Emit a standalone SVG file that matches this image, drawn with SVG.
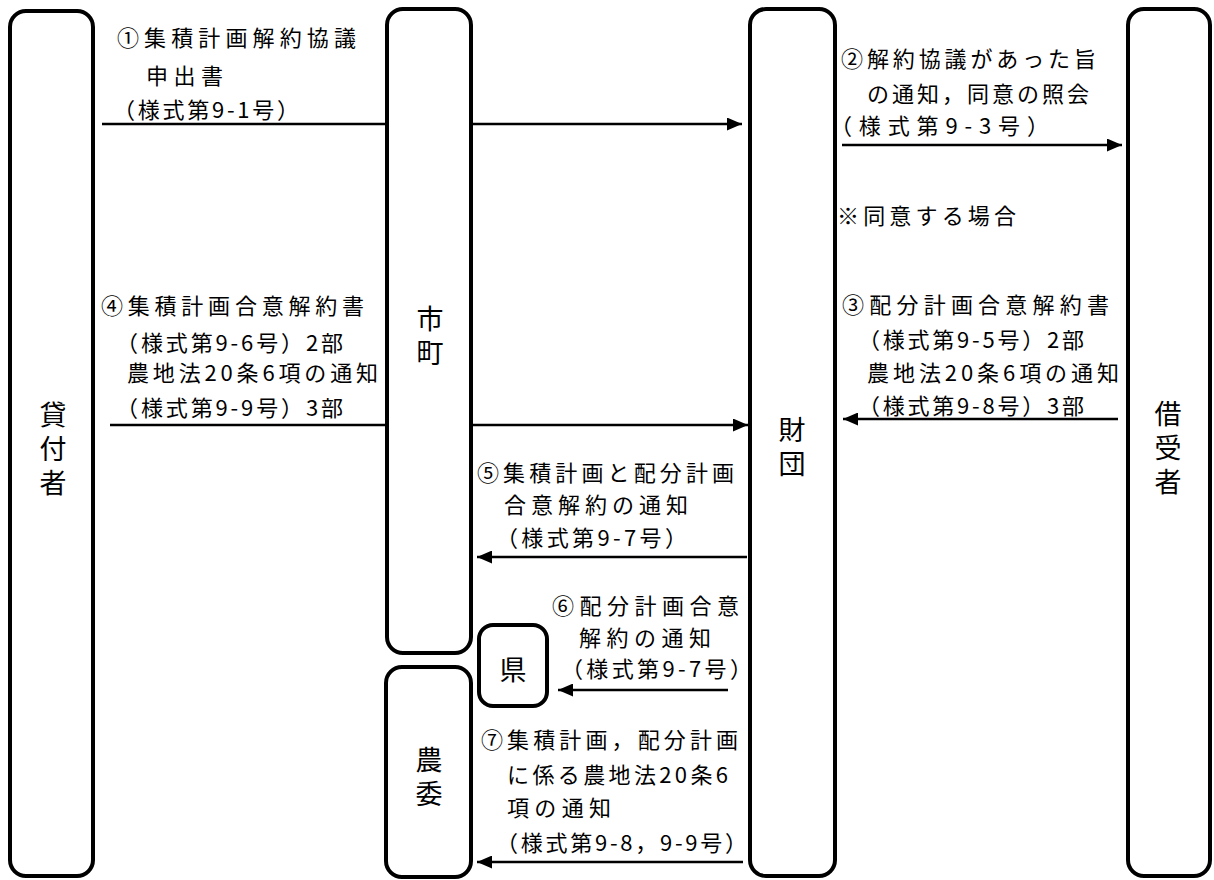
<svg xmlns="http://www.w3.org/2000/svg" width="1214" height="880" viewBox="0 0 1214 880">
<style>
.box{fill:#fff;stroke:#000;stroke-width:4}
.nl{font-family:"Noto Sans CJK JP","Noto Sans",sans-serif;font-size:27px;fill:#000;text-anchor:middle}
.vt{writing-mode:vertical-rl;letter-spacing:7px}
.lb{font-family:"Noto Sans CJK JP","Noto Sans",sans-serif;font-size:22px;fill:#000}
.ar{stroke:#000;stroke-width:2.5;fill:none;marker-end:url(#ah)}
</style>
<defs>
<marker id="ah" markerUnits="userSpaceOnUse" markerWidth="15" markerHeight="13" refX="15" refY="6.5" orient="auto">
<path d="M0,0 L15,6.5 L0,13 z" fill="#000"/>
</marker>
</defs>
<rect width="1214" height="880" fill="#fff"/>
<g id="connectors">
<line class="ar" x1="102" y1="124" x2="742" y2="124"/>
<line class="ar" x1="842" y1="145" x2="1122" y2="145"/>
<line class="ar" x1="1118" y1="419" x2="843" y2="419"/>
<line class="ar" x1="110" y1="425" x2="748" y2="425"/>
<line class="ar" x1="747" y1="557" x2="477" y2="557"/>
<line class="ar" x1="728" y1="690" x2="558" y2="690"/>
<line class="ar" x1="743" y1="862" x2="477" y2="862"/>
</g>
<g id="node-kashitsukesha">
<rect class="box" x="10" y="11" width="83" height="865" rx="16"/>
<text class="nl vt" x="53" y="452">貸付者</text>
</g>
<g id="node-shicho">
<rect class="box" x="387" y="9" width="84" height="644" rx="16"/>
<text class="nl vt" x="430" y="339">市町</text>
</g>
<g id="node-zaidan">
<rect class="box" x="750" y="9" width="85" height="867" rx="16"/>
<text class="nl vt" x="792" y="450">財団</text>
</g>
<g id="node-kariukesha">
<rect class="box" x="1128" y="9" width="82" height="867" rx="16"/>
<text class="nl vt" x="1168" y="451">借受者</text>
</g>
<g id="node-ken">
<rect class="box" x="479" y="625" width="68" height="81" rx="14"/>
<text class="nl" x="513" y="680">県</text>
</g>
<g id="node-noui">
<rect class="box" x="386" y="667" width="85" height="210" rx="16"/>
<text class="nl vt" x="429" y="780">農委</text>
</g>
<g id="labels">
<text class="lb" x="117" y="46" textLength="239" lengthAdjust="spacing">①集積計画解約協議</text>
<text class="lb" x="146" y="84" textLength="77" lengthAdjust="spacing">申出書</text>
<text class="lb" x="113" y="118" textLength="186" lengthAdjust="spacing">（様式第9-1号）</text>

<text class="lb" x="841" y="67" textLength="255" lengthAdjust="spacing">②解約協議があった旨</text>
<text class="lb" x="867" y="102" textLength="222" lengthAdjust="spacing">の通知，同意の照会</text>
<text class="lb" x="830" y="134" textLength="219" lengthAdjust="spacing">（様式第9-3号）</text>

<text class="lb" x="837" y="224" textLength="179" lengthAdjust="spacing">※同意する場合</text>

<text class="lb" x="842" y="313" textLength="267" lengthAdjust="spacing">③配分計画合意解約書</text>
<text class="lb" x="858" y="348" textLength="226" lengthAdjust="spacing">（様式第9-5号）2部</text>
<text class="lb" x="867" y="381" textLength="252" lengthAdjust="spacing">農地法20条6項の通知</text>
<text class="lb" x="858" y="414" textLength="226" lengthAdjust="spacing">（様式第9-8号）3部</text>

<text class="lb" x="101" y="314" textLength="263" lengthAdjust="spacing">④集積計画合意解約書</text>
<text class="lb" x="116" y="351" textLength="227" lengthAdjust="spacing">（様式第9-6号）2部</text>
<text class="lb" x="127" y="381" textLength="251" lengthAdjust="spacing">農地法20条6項の通知</text>
<text class="lb" x="116" y="416" textLength="227" lengthAdjust="spacing">（様式第9-9号）3部</text>

<text class="lb" x="477" y="481" textLength="257" lengthAdjust="spacing">⑤集積計画と配分計画</text>
<text class="lb" x="504" y="513" textLength="184" lengthAdjust="spacing">合意解約の通知</text>
<text class="lb" x="496" y="546" textLength="191" lengthAdjust="spacing">（様式第9-7号）</text>

<text class="lb" x="552" y="614" textLength="187" lengthAdjust="spacing">⑥配分計画合意</text>
<text class="lb" x="579" y="646" textLength="132" lengthAdjust="spacing">解約の通知</text>
<text class="lb" x="561" y="677" textLength="191" lengthAdjust="spacing">（様式第9-7号）</text>

<text class="lb" x="481" y="748" textLength="257" lengthAdjust="spacing">⑦集積計画，配分計画</text>
<text class="lb" x="507" y="783" textLength="221" lengthAdjust="spacing">に係る農地法20条6</text>
<text class="lb" x="507" y="816" textLength="104" lengthAdjust="spacing">項の通知</text>
<text class="lb" x="496" y="851" textLength="251" lengthAdjust="spacing">（様式第9-8，9-9号）</text>
</g>
</svg>
